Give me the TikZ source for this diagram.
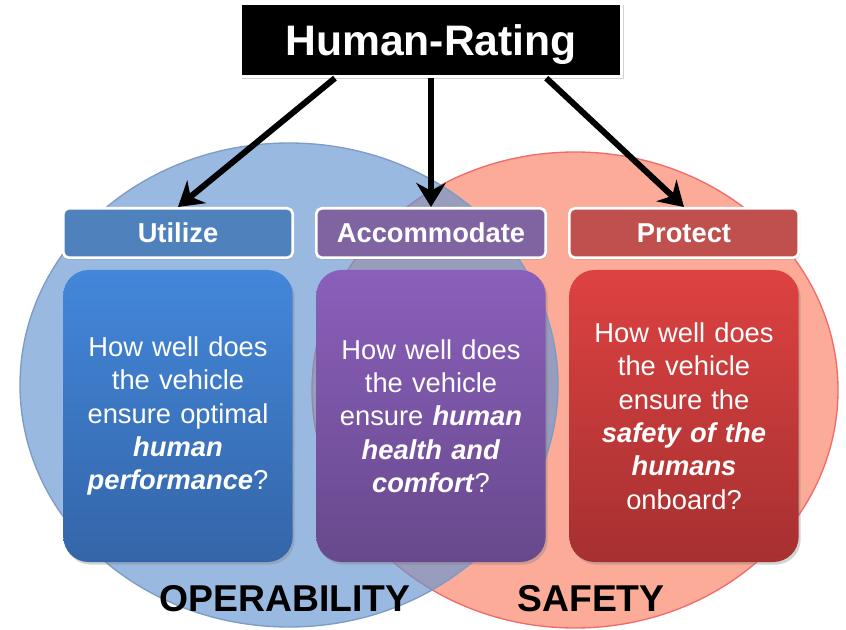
\documentclass[tikz,border=0pt]{standalone}
\usepackage{fontspec}
\setmainfont{Liberation Sans}
\usepackage{xcolor}
\usepackage{tikz}
\usetikzlibrary{arrows.meta}
\usetikzlibrary{shadows, calc}

\definecolor{bleuCercle}{HTML}{6495D2}
\definecolor{bordBleu}{HTML}{7C9CC6}
\definecolor{rougeCercle}{HTML}{FBAB97}
\definecolor{bordRouge}{HTML}{F26B6B}
\definecolor{bleuEntete}{HTML}{4F81BD}
\definecolor{violetEntete}{HTML}{8064A2}
\definecolor{rougeEntete}{HTML}{C0504D}

\begin{document}
\begin{tikzpicture}[x=0.75pt, y=0.75pt,
    titre/.style={draw=white, line width=2.2pt, fill=black, text=white,
      font=\fontsize{32}{36}\selectfont\bfseries, text depth=0pt,
      minimum width=286pt, minimum height=55pt,
      drop shadow={opacity=0.35, shadow xshift=1.5pt, shadow yshift=-1.5pt}},
    entete/.style={draw=white, line width=2pt, rounded corners=4pt, text=white,
      font=\fontsize{20.5}{24}\selectfont\bfseries,
      minimum width=172pt, minimum height=37pt,
      drop shadow={opacity=0.3, shadow xshift=1pt, shadow yshift=-1.5pt}},
    carte/.style={rounded corners=19pt, text=white, align=center,
      font=\fontsize{20.5}{25}\selectfont, inner xsep=2pt,
      text width=168pt, minimum height=219pt,
      drop shadow={opacity=0.35, shadow xshift=1.5pt, shadow yshift=-2pt}},
    fleche/.style={line width=4.5pt, -{Stealth[length=18pt, width=22pt]}},
    domaine/.style={font=\fontsize{28}{32}\selectfont\bfseries}
  ]
  \fill[white, use as bounding box] (0,0) rectangle (846,629);

  % Les deux domaines : sécurité dessous, opérabilité par-dessus
  \draw[bordRouge, line width=1pt, fill=rougeCercle] (575,239) ellipse [x radius=263, y radius=238];
  \draw[bordBleu, line width=1pt, fill=bleuCercle, fill opacity=0.65] (289,244) ellipse [x radius=269, y radius=242];

  \node[domaine] (operability) at (285,30) {OPERABILITY};
  \node[domaine] (safety) at (591,30) {SAFETY};

  % Titre
  \node[titre] (titre) at (431,589) {Human-Rating};

  % Les trois en-têtes
  \node[entete, fill=bleuEntete] (utilize) at (178,396) {Utilize};
  \node[entete, fill=violetEntete] (accommodate) at (431,396) {Accommodate};
  \node[entete, fill=rougeEntete] (protect) at (684,396) {Protect};

  % Les questions
  \node[carte, top color={rgb,255:red,67;green,135;blue,218}, bottom color={rgb,255:red,52;green,101;blue,168}]
    (utilizeQ) at (178,213) {How well does\\the vehicle\\ensure optimal\\\textbf{\textit{human}}\\\textbf{\textit{performance}}?};
  \node[carte, top color={rgb,255:red,138;green,95;blue,187}, bottom color={rgb,255:red,104;green,73;blue,140}]
    (accommodateQ) at (431,213) {How well does\\the vehicle\\ensure \textbf{\textit{human}}\\\textbf{\textit{health and}}\\\textbf{\textit{comfort}}?};
  \node[carte, top color={rgb,255:red,221;green,66;blue,65}, bottom color={rgb,255:red,166;green,48;blue,48}]
    (protectQ) at (684,213) {How well does\\the vehicle\\ensure the\\\textbf{\textit{safety of the}}\\\textbf{\textit{humans}}\\onboard?};

  % Flèches
  \draw[fleche] ($(titre.south west)!0.25!(titre.south east)$) -- (utilize.north);
  \draw[fleche] (titre.south) -- (accommodate.north);
  \draw[fleche] ($(titre.south west)!0.8!(titre.south east)$) -- (protect.north);
\end{tikzpicture}
\end{document}
